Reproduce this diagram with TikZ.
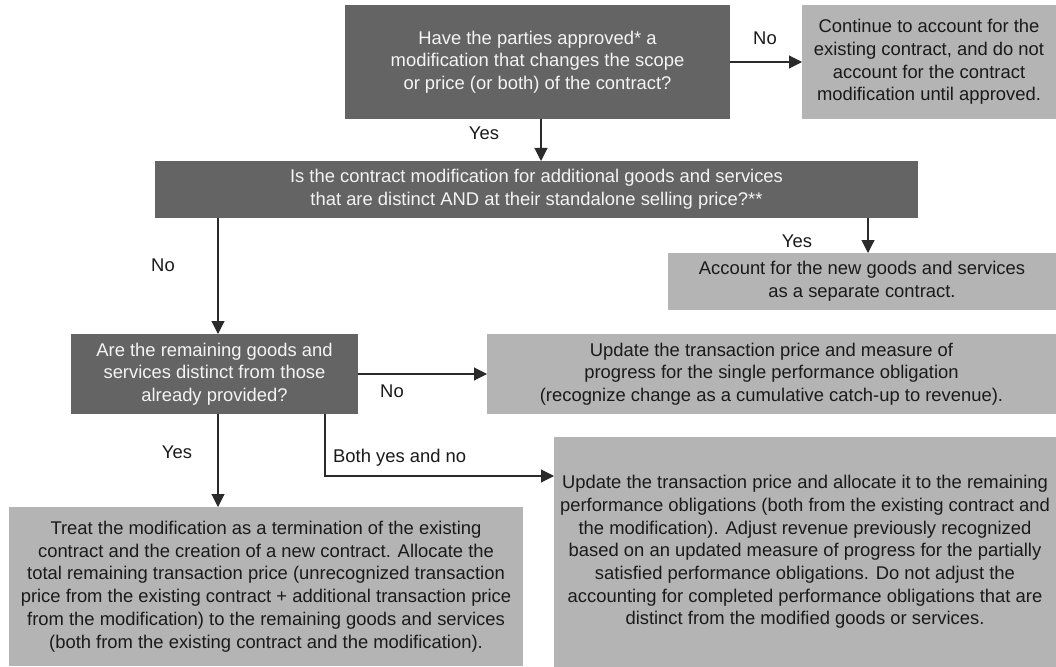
\documentclass[tikz,border=0pt]{standalone}
\usepackage{fontspec}
\setmainfont{Liberation Sans}
\usetikzlibrary{arrows.meta}
\definecolor{darkbox}{HTML}{646464}
\definecolor{lightbox}{HTML}{B4B4B4}
\definecolor{darktext}{HTML}{F4F4F4}
\definecolor{lighttext}{HTML}{1A1A1A}
\definecolor{linecol}{HTML}{2A2A2A}
\newcommand{\fs}{\fontsize{18.4bp}{22.7bp}\selectfont}
\tikzset{
  box/.style={inner sep=0pt, outer sep=0pt, anchor=north west, align=center, font=\fs},
  darkq/.style={box, fill=darkbox, text=darktext},
  lightq/.style={box, fill=lightbox, text=lighttext},
  lbl/.style={font=\fs, text=lighttext, inner sep=0pt},
  arr/.style={draw=linecol, line width=1.1bp, -{Triangle[length=13bp,width=13bp]}}
}
\begin{document}
\begin{tikzpicture}[x=1bp,y=-1bp]
\fill[white] (0,0) rectangle (1056,667);
\useasboundingbox (0,0) rectangle (1056,667);

\node[darkq, minimum width=385bp, minimum height=114bp] (q1) at (345,5)
  {Have the parties approved* a\\modification that changes the scope\\or price (or both) of the contract?};
\node[lightq, minimum width=254bp, minimum height=114bp] (n1) at (802,5)
  {Continue to account for the\\existing contract, and do not\\account for the contract\\modification until approved.};
\node[darkq, minimum width=763bp, minimum height=57bp] (q2) at (155,161)
  {Is the contract modification for additional goods and services\\that are distinct AND at their standalone selling price?**};
\node[lightq, minimum width=388bp, minimum height=57bp] (a2) at (668,253)
  {Account for the new goods and services\\as a separate contract.};
\node[darkq, minimum width=287bp, minimum height=80bp] (q3) at (71,334)
  {Are the remaining goods and\\services distinct from those\\already provided?};
\node[lightq, minimum width=569bp, minimum height=80bp] (a3) at (487,334)
  {Update the transaction price and measure of\\progress for the single performance obligation\\(recognize change as a cumulative catch-up to revenue).};
\node[lightq, minimum width=514bp, minimum height=159bp] (a4) at (9,507)
  {Treat the modification as a termination of the existing\\contract and the creation of a new contract. Allocate the\\total remaining transaction price (unrecognized transaction\\price from the existing contract + additional transaction price\\from the modification) to the remaining goods and services\\(both from the existing contract and the modification).};
\node[lightq, minimum width=502bp, minimum height=230bp] (a5) at (554,437)
  {Update the transaction price and allocate it to the remaining\\performance obligations (both from the existing contract and\\the modification). Adjust revenue previously recognized\\based on an updated measure of progress for the partially\\satisfied performance obligations. Do not adjust the\\accounting for completed performance obligations that are\\distinct from the modified goods or services.};

\draw[arr] ([xshift=3.5bp]q1.south) -- ([xshift=3.5bp]q1.south |- q2.north);
\draw[arr] (q1.east) -- (n1.west);
\draw[arr] ([xshift=6bp]a2.north |- q2.south) -- ([xshift=6bp]a2.north);
\draw[arr] ([xshift=3.5bp]q3.north |- q2.south) -- ([xshift=3.5bp]q3.north);
\draw[arr] (q3.east) -- (a3.west);
\draw[arr] ([xshift=3.5bp]q3.south) -- ([xshift=3.5bp]q3.south |- a4.north);
\draw[arr] ([xshift=110.5bp]q3.south) |- ([yshift=76bp]a5.west);

\node[lbl] (l1) at (765,38) {No};
\node[lbl] (l2) at (484,133) {Yes};
\node[lbl] (l3) at (797,241) {Yes};
\node[lbl] (l4) at (163,265) {No};
\node[lbl] (l5) at (392,391) {No};
\node[lbl] (l6) at (177,452) {Yes};
\node[lbl, anchor=west] (l7) at (333,458) {Both yes and no};
\end{tikzpicture}
\end{document}
